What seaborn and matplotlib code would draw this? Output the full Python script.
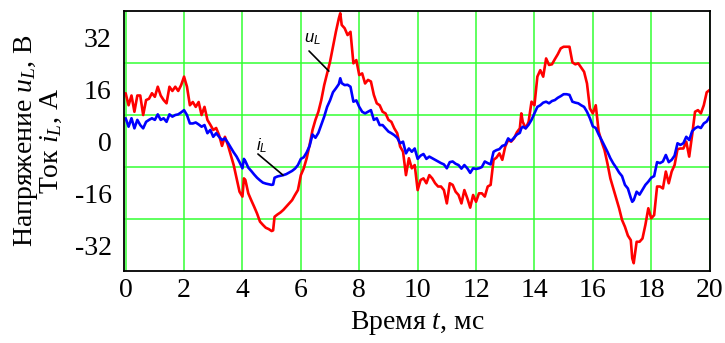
import numpy as np
import pandas as pd
import matplotlib
matplotlib.use("Agg")
import matplotlib.pyplot as plt
import seaborn as sns

# time, ms
t_ms = [0.0, 0.1, 0.2, 0.3, 0.4, 0.5, 0.6, 0.7, 0.8, 0.9,
        1.0, 1.1, 1.2, 1.3, 1.4, 1.5, 1.6, 1.7, 1.8, 1.9,
        2.0, 2.1, 2.2, 2.3, 2.4, 2.5, 2.6, 2.7, 2.8, 2.9,
        3.0, 3.1, 3.2, 3.3, 3.4, 3.5, 3.6, 3.7, 3.8, 3.9,
        4.0, 4.05, 4.1, 4.2, 4.3, 4.4, 4.5, 4.6, 4.7, 4.8, 4.9,
        5.0, 5.05, 5.1, 5.2, 5.3, 5.4, 5.5, 5.6, 5.7, 5.8, 5.9,
        6.0, 6.1, 6.2, 6.3, 6.4, 6.5, 6.6, 6.7, 6.8, 6.9,
        7.0, 7.1, 7.2, 7.3, 7.35, 7.4, 7.5, 7.6, 7.7, 7.8, 7.9,
        8.0, 8.1, 8.2, 8.3, 8.4, 8.5, 8.6, 8.7, 8.8, 8.9,
        9.0, 9.1, 9.2, 9.3, 9.4, 9.5, 9.6, 9.7, 9.8, 9.9,
        10.0, 10.1, 10.2, 10.3, 10.4, 10.5, 10.6, 10.7, 10.8, 10.9,
        11.0, 11.1, 11.2, 11.3, 11.4, 11.5, 11.6, 11.7, 11.8, 11.9,
        12.0, 12.1, 12.2, 12.3, 12.4, 12.5, 12.6, 12.7, 12.8, 12.9,
        13.0, 13.1, 13.2, 13.3, 13.4, 13.5, 13.55, 13.6, 13.7, 13.8, 13.9,
        14.0, 14.1, 14.2, 14.3, 14.4, 14.5, 14.6, 14.7, 14.8, 14.9,
        15.0, 15.1, 15.2, 15.3, 15.4, 15.5, 15.6, 15.7, 15.8, 15.9,
        16.0, 16.1, 16.2, 16.3, 16.4, 16.5, 16.6, 16.7, 16.8, 16.9,
        17.0, 17.1, 17.2, 17.3, 17.35, 17.4, 17.5, 17.6, 17.7, 17.8, 17.9,
        18.0, 18.1, 18.2, 18.3, 18.4, 18.5, 18.6, 18.7, 18.8, 18.9,
        19.0, 19.1, 19.2, 19.3, 19.4, 19.5, 19.6, 19.7, 19.8, 19.9,
        20.0]

# voltage u_L, V
u_L = [14.7, 11, 14, 9, 14, 14, 8, 12.6, 13, 14.7,
       13.6, 16.7, 14, 12.6, 11.6, 16.7, 15.4, 16.7, 15.4, 17.2,
       19.8, 16.7, 11, 12, 10.5, 12, 8, 10.5, 6.5, 5,
       3.4, 4, 1.8, -1.5, 1.3, -1.2, -4.3, -7.4, -11.5, -15.6,
       -17.1, -11.5, -12, -16.1, -18.2, -20.2, -22.3, -24.8, -25.8, -26.7, -27.1,
       -27.7, -27.5, -23.3, -22.6, -22, -21.2, -20.2, -19.2, -18.2, -16.6, -15.1,
       -10.5, -8.4, -5.3, -1.2, 3.4, 6.5, 9, 12.6, 17.2, 20.8,
       24.4, 29, 33.6, 37.7, 39.3, 35.7, 34.7, 32.6, 33.6, 23.9, 24.9,
       20.3, 20.8, 17.7, 18.8, 18.3, 14.2, 11.6, 11, 9, 8.5,
       6.5, 5.9, 3.9, 2.4, -1.7, -3.3, -10.5, -5.3, -8.4, -7.4,
       -15.1, -12, -11.5, -13, -10.5, -11.5, -13, -14, -14, -15.1,
       -19.2, -13, -13.5, -15.6, -16.6, -19.2, -15.1, -17.6, -20.5, -16.6,
       -18.7, -16.1, -16.1, -17.1, -14, -13.5, -5.8, -5.1, -3.8, -5.8,
       -1.7, 0.3, -0.2, 0.8, 2.7, 3.9, 8.5, 5.9, 3.9, 5.9, 12.1,
       11, 19.8, 21.8, 19.8, 25.4, 23.4, 23.6, 25.2, 26.7, 28.5,
       29, 29, 29, 24.2, 23.6, 23.9, 22.6, 21.3, 17.7, 10,
       8.5, 11, 2.9, -0.2, -2.8, -6.9, -11.5, -14.6, -17.6, -20.7,
       -24.3, -26.4, -29.1, -30.5, -36.1, -37.6, -31, -31, -30, -25.8, -20.7,
       -23.8, -22.8, -14, -14, -14.6, -9.4, -13, -9.4, -7.4, -2.5,
       -2.3, -2.3, -0.2, -4.8, 1.8, 9, 9.5, 8.5, 11, 15,
       15.7]

# current i_L, A
i_L = [7, 4.4, 7, 3.9, 6.5, 4.9, 3.9, 5.9, 6.5, 7,
       6.5, 8.2, 6.5, 7, 5.9, 8.2, 7.5, 8, 8.2, 8.8,
       9.5, 8, 5.4, 5.4, 5.7, 5.1, 4.4, 4.9, 2.4, 3.4,
       1.3, 2.4, 1.3, 0.3, 0.8, -0.5, -2, -3.5, -4.8, -6.5,
       -8.4, -5.5, -6.2, -8.2, -9.2, -10.3, -11.3, -12.1, -12.8, -13.1, -13.3,
       -13.5, -13.4, -11.3, -10.9, -10.7, -10.5, -10.2, -9.7, -9.2, -8.5, -7.4,
       -5.5, -5.0, -3.5, -1.5, 2.0, 1.0, 2.5, 5, 7.5, 10.5,
       12.5, 15, 16.2, 17.5, 19.3, 17.8, 17.2, 17.3, 16.7, 12.1, 12.5,
       10.5, 9.0, 8.5, 9.0, 9.5, 6.5, 7.0, 4.9, 4.9, 3.9,
       2.9, 2.4, 1.8, 1.0, -0.7, -0.2, -3.8, -2.3, -3.3, -2.3,
       -5.5, -4.5, -4.0, -5.5, -4.8, -5.3, -5.8, -6.3, -6.8, -7.2,
       -8.4, -6.5, -6.3, -7.0, -7.4, -8.5, -7.4, -8.4, -9.8, -8.4,
       -8.6, -8.4, -8.0, -6.3, -6.8, -7.2, -3.3, -2.8, -2.5, -1.5,
       -1.2, 0.8, 0, 1.0, 2.0, 2.5, 3.9, 4.4, 3.9, 5.0, 6.5,
       8.5, 10.5, 11.0, 11.8, 12.1, 11.6, 12.3, 12.6, 13.3, 13.8,
       14.4, 14.4, 14.2, 12.1, 11.8, 11.6, 11.0, 10.5, 9.0, 7.0,
       4.5, 4.0, 2.0, 0.3, -1.5, -3.3, -5.3, -6.9, -8.2, -9.7,
       -10.8, -13.5, -14.6, -17.5, -18.7, -18.2, -15.6, -16.5, -15.0, -13.5, -12.5,
       -11.3, -10.8, -6.5, -6.8, -6.3, -4.3, -6.5, -5.8, -4.5, -0.7,
       -1.2, -0.7, 1.3, 0.3, 3.0, 3.9, 4.4, 4.0, 5.4, 6.0,
       7.5]

x_ticks = [0, 2, 4, 6, 8, 10, 12, 14, 16, 18, 20]
y_ticks = [-32, -16, 0, 16, 32]
y_grid = [-32, -24, -16, -8, 0, 8, 16, 24, 32]

df = pd.DataFrame({"t": t_ms, "u": u_L, "i": i_L})

sns.set_style("white")
plt.rcParams["font.family"] = ["Liberation Serif", "DejaVu Serif"]
plt.rcParams["mathtext.fontset"] = "custom"
plt.rcParams["mathtext.rm"] = "Liberation Serif"
plt.rcParams["mathtext.it"] = "Liberation Serif:italic"
plt.rcParams["mathtext.sf"] = "Liberation Sans:italic"
for k in ["text.color", "axes.labelcolor", "xtick.color", "ytick.color"]:
    plt.rcParams[k] = "black"

fig = plt.figure(figsize=(7.25, 3.43), dpi=100)
ax = fig.add_axes([0.1713, 0.2099, 0.8075, 0.758])

sns.lineplot(data=df, x="t", y="u", color="#ff0000", lw=1.9, ax=ax, sort=False)
sns.lineplot(data=df, x="t", y="i", color="#0000ff", lw=1.9, ax=ax, sort=False)

ax.set_xlim(-0.05, 20.0)
ax.set_ylim(-40, 40)
ax.set_xticks(x_ticks)
ax.set_yticks(y_ticks)
ax.set_yticks(y_grid, minor=True)
ax.set_xticklabels([str(v) for v in x_ticks])
ax.set_yticklabels([str(v) for v in y_ticks])
ax.tick_params(axis="both", which="both", length=0, labelsize=20, colors="black")
ax.tick_params(axis="x", pad=5)
ax.tick_params(axis="y", pad=9)
ax.grid(True, axis="x", which="major", color="#33ff33", lw=1.1)
ax.grid(True, axis="y", which="minor", color="#33ff33", lw=1.1)
ax.set_axisbelow(True)
for s in ax.spines.values():
    s.set_color("black")
    s.set_linewidth(1.3)

ax.set_xlabel("Время $t$, мс", fontsize=20, labelpad=4, color="black")
ax.set_ylabel("Напряжение $u_L$, В\nТок $i_L$, А", fontsize=20, labelpad=8,
              linespacing=0.9, color="black")

# curve labels with leader lines
ax.text(6.12, 31.5, r"$\mathsf{u_L}$", fontsize=12, ha="left", va="center", color="black")
ax.annotate("", xy=(6.96, 21.5), xytext=(6.28, 27.7),
            arrowprops=dict(arrowstyle="-", color="black", lw=1.2, shrinkA=0, shrinkB=0))
ax.text(4.45, -1.5, r"$\mathsf{i_L}$", fontsize=12, ha="left", va="center", color="black")
ax.annotate("", xy=(5.39, -10.5), xytext=(4.53, -4.0),
            arrowprops=dict(arrowstyle="-", color="black", lw=1.2, shrinkA=0, shrinkB=0))

fig.savefig("out.png", dpi=100)
